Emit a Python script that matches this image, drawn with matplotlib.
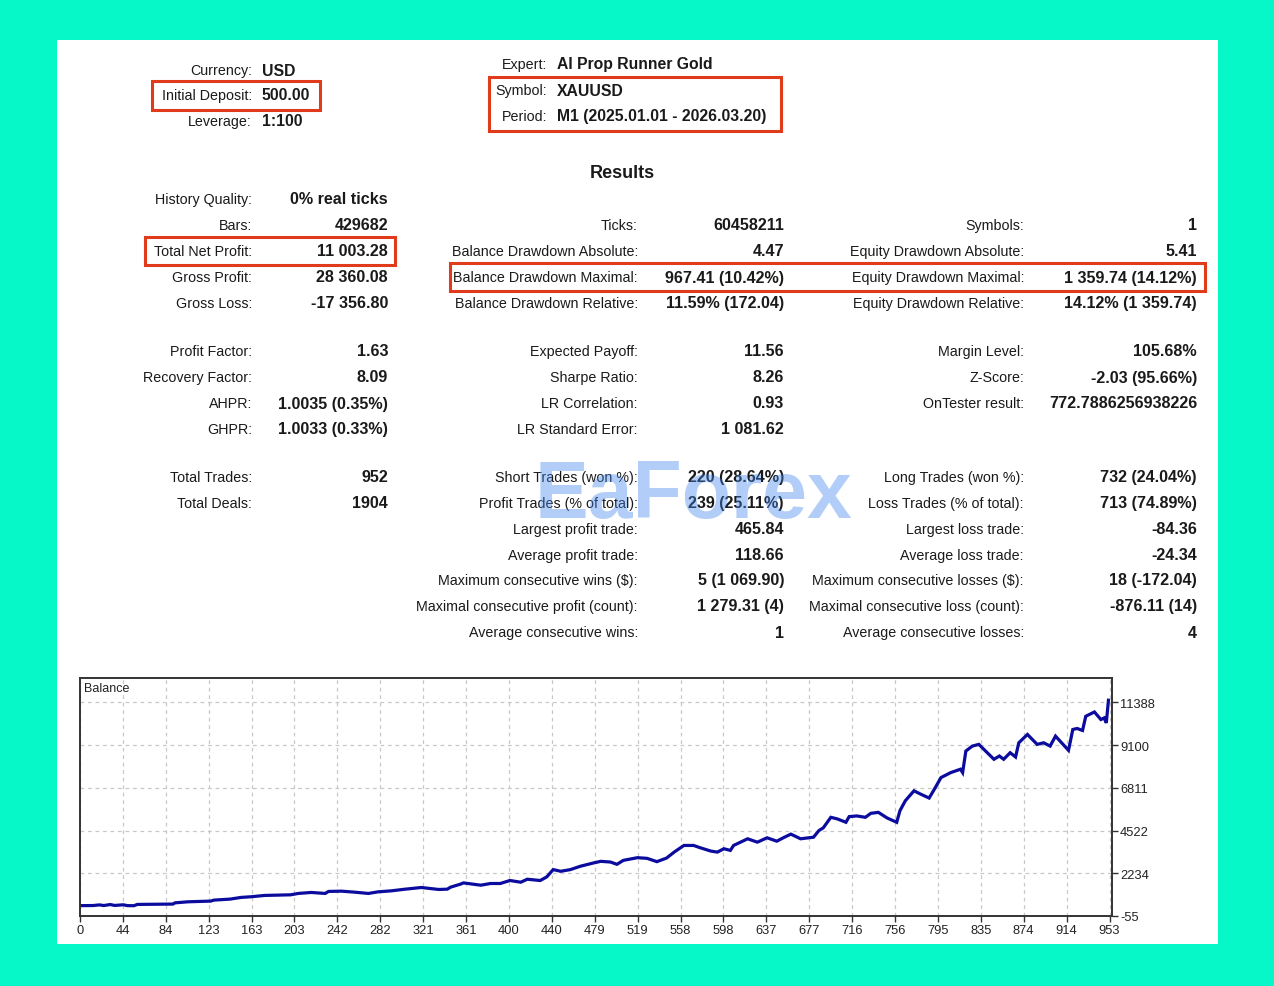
import matplotlib
matplotlib.use("Agg")
import matplotlib.pyplot as plt
from matplotlib.patches import Rectangle

plt.rcParams['font.family'] = ['Liberation Sans', 'DejaVu Sans']

# ---------------- data ----------------
header_left = [("Currency:", "USD"), ("Initial Deposit:", "500.00"), ("Leverage:", "1:100")]
header_right = [("Expert:", "AI Prop Runner Gold"), ("Symbol:", "XAUUSD"),
                ("Period:", "M1 (2025.01.01 - 2026.03.20)")]

col1 = [("History Quality:", "0% real ticks"), ("Bars:", "429682"), ("Total Net Profit:", "11 003.28"),
        ("Gross Profit:", "28 360.08"), ("Gross Loss:", "-17 356.80"), None,
        ("Profit Factor:", "1.63"), ("Recovery Factor:", "8.09"), ("AHPR:", "1.0035 (0.35%)"),
        ("GHPR:", "1.0033 (0.33%)"), None,
        ("Total Trades:", "952"), ("Total Deals:", "1904"), None, None, None, None, None]
col2 = [None, ("Ticks:", "60458211"), ("Balance Drawdown Absolute:", "4.47"),
        ("Balance Drawdown Maximal:", "967.41 (10.42%)"), ("Balance Drawdown Relative:", "11.59% (172.04)"), None,
        ("Expected Payoff:", "11.56"), ("Sharpe Ratio:", "8.26"), ("LR Correlation:", "0.93"),
        ("LR Standard Error:", "1 081.62"), None,
        ("Short Trades (won %):", "220 (28.64%)"), ("Profit Trades (% of total):", "239 (25.11%)"),
        ("Largest profit trade:", "465.84"), ("Average profit trade:", "118.66"),
        ("Maximum consecutive wins ($):", "5 (1 069.90)"), ("Maximal consecutive profit (count):", "1 279.31 (4)"),
        ("Average consecutive wins:", "1")]
col3 = [None, ("Symbols:", "1"), ("Equity Drawdown Absolute:", "5.41"),
        ("Equity Drawdown Maximal:", "1 359.74 (14.12%)"), ("Equity Drawdown Relative:", "14.12% (1 359.74)"), None,
        ("Margin Level:", "105.68%"), ("Z-Score:", "-2.03 (95.66%)"), ("OnTester result:", "772.7886256938226"),
        None, None,
        ("Long Trades (won %):", "732 (24.04%)"), ("Loss Trades (% of total):", "713 (74.89%)"),
        ("Largest loss trade:", "-84.36"), ("Average loss trade:", "-24.34"),
        ("Maximum consecutive losses ($):", "18 (-172.04)"), ("Maximal consecutive loss (count):", "-876.11 (14)"),
        ("Average consecutive losses:", "4")]

trades = [0, 12, 18, 22, 28, 32, 40, 44, 50, 53, 86, 88, 100, 121, 124, 139, 149, 158, 171, 183,
          195, 202, 214, 227, 230, 242, 254, 267, 276, 288, 301, 316, 332, 340, 343, 352, 355, 364,
          371, 380, 389, 398, 408, 414, 426, 432, 438, 445, 454, 463, 475, 482, 491, 497, 503, 516,
          525, 534, 543, 550, 559, 568, 574, 584, 590, 596, 602, 605, 618, 627, 636, 645, 651, 658,
          667, 679, 684, 688, 695, 701, 709, 712, 719, 727, 732, 739, 747, 756, 759, 764, 772, 778,
          786, 790, 797, 806, 815, 817, 820, 826, 832, 846, 851, 855, 861, 866, 869, 877, 886, 892,
          898, 903, 915, 919, 923, 928, 931, 939, 945, 948, 950, 952]
balance = [500, 505, 540, 505, 560, 510, 545, 500, 497, 565, 584, 650, 706, 743, 797, 850, 940, 974,
           1047, 1063, 1080, 1153, 1206, 1153, 1260, 1276, 1223, 1153, 1240, 1292, 1382, 1472, 1366,
           1382, 1489, 1648, 1718, 1648, 1595, 1686, 1686, 1846, 1755, 1915, 1846, 2037, 2431, 2340,
           2431, 2607, 2782, 2873, 2836, 2713, 2926, 3069, 3032, 2855, 3050, 3368, 3724, 3724, 3602,
           3421, 3368, 3548, 3458, 3724, 4081, 3900, 4134, 3953, 4134, 4330, 4081, 4166, 4523, 4666,
           5231, 5146, 4965, 5268, 5305, 5231, 5444, 5497, 5199, 4965, 5587, 6120, 6652, 6476, 6263,
           6652, 7360, 7626, 7807, 7626, 8781, 9047, 9138, 8339, 8515, 8339, 8691, 8462, 9223, 9670,
           9138, 9223, 9047, 9580, 8819, 9936, 9989, 9883, 10644, 10874, 10469, 10554, 10288, 11503]

x_tick_labels = ["0", "44", "84", "123", "163", "203", "242", "282", "321", "361", "400", "440",
                 "479", "519", "558", "598", "637", "677", "716", "756", "795", "835", "874", "914", "953"]
y_ticks = [-55, 2234, 4522, 6811, 9100, 11388]

# ---------------- layout helpers ----------------
W, H = 1274, 987
TEAL = '#06F8C9'
RED = '#E03C1C'
TXT = '#1a1a1a'

def fx(x):
    return x / W

def fy(y):
    return 1 - y / H

fig = plt.figure(figsize=(W / 100, H / 100), dpi=100, facecolor=TEAL)

fig.patches.append(Rectangle((fx(57), fy(945)), (1218 - 57) / W, (945 - 41) / H,
                             transform=fig.transFigure, facecolor='white', edgecolor='none', zorder=-10))

LAB_FS = 10.3
VAL_FS = 11.6

def label(x, y, s):
    fig.text(fx(x), fy(y), s, ha='right', va='center', fontsize=LAB_FS, color=TXT)

def value_right(x, y, s, fs=VAL_FS):
    fig.text(fx(x), fy(y), s, ha='right', va='center', fontsize=fs, fontweight='bold', color=TXT)

def value_left(x, y, s, fs=11.3):
    fig.text(fx(x), fy(y), s, ha='left', va='center', fontsize=fs, fontweight='bold', color=TXT)

# header
for (lab, val), y in zip(header_left, [71, 96, 122]):
    label(252, y, lab)
    value_left(262, y, val)
for (lab, val), y in zip(header_right, [65, 91, 117]):
    label(547, y, lab)
    value_left(557, y, val)

fig.text(fx(622), fy(173), "Results", ha='center', va='center', fontsize=13, fontweight='bold', color=TXT)

row_y = [200, 226, 252, 278, 304, 328, 352, 378, 404, 430, 454, 478, 504, 530, 556, 581, 607, 633]
for col, (lx, vx) in zip([col1, col2, col3], [(252, 388), (638, 784), (1024, 1197)]):
    for item, y in zip(col, row_y):
        if item is None:
            continue
        label(lx, y, item[0])
        value_right(vx, y, item[1])

# red highlight boxes
for (x0, y0, x1, y1) in [(152, 82, 320, 111), (489, 78, 781, 132), (145, 238, 395, 266), (450, 264, 1205, 292)]:
    fig.patches.append(Rectangle((fx(x0), fy(y1)), (x1 - x0) / W, (y1 - y0) / H,
                                 transform=fig.transFigure, facecolor='none', edgecolor=RED,
                                 linewidth=2.2, zorder=5))

# watermark (semi-transparent, as in the reference)
fig.text(fx(694), fy(497), "EaForex", ha='center', va='center', fontsize=58, fontweight='bold',
         color='#3f86ee', alpha=0.4, zorder=6)

# ---------------- balance chart ----------------
ax = fig.add_axes([fx(80), fy(917), (1111.7 - 80) / W, (917 - 678.5) / H])
ax.set_zorder(2)
ax.set_facecolor('white')
ax.plot(trades, balance, color='#0B0B9E', linewidth=2.3, solid_joinstyle='miter')
ax.set_xlim(0, 955)
ax.set_ylim(-55, 12720)

step = 953 / (len(x_tick_labels) - 1)
ax.set_xticks([i * step for i in range(len(x_tick_labels))])
ax.set_xticklabels(x_tick_labels)
ax.set_yticks(y_ticks)
ax.set_yticklabels([str(v) for v in y_ticks])
ax.yaxis.tick_right()
ax.tick_params(axis='both', direction='out', length=4, width=1, colors='#333333',
               labelsize=9.3, labelcolor='#222222', pad=2)
ax.grid(True, linestyle=(0, (3, 3)), color='#c8c8c8', linewidth=0.9)
for sp in ax.spines.values():
    sp.set_color('#333333')
    sp.set_linewidth(1.4)
ax.text(0.004, 0.955, "Balance", transform=ax.transAxes, ha='left', va='center', fontsize=9.0, color='#222222')

fig.savefig("out.png", dpi=100, facecolor=TEAL)
